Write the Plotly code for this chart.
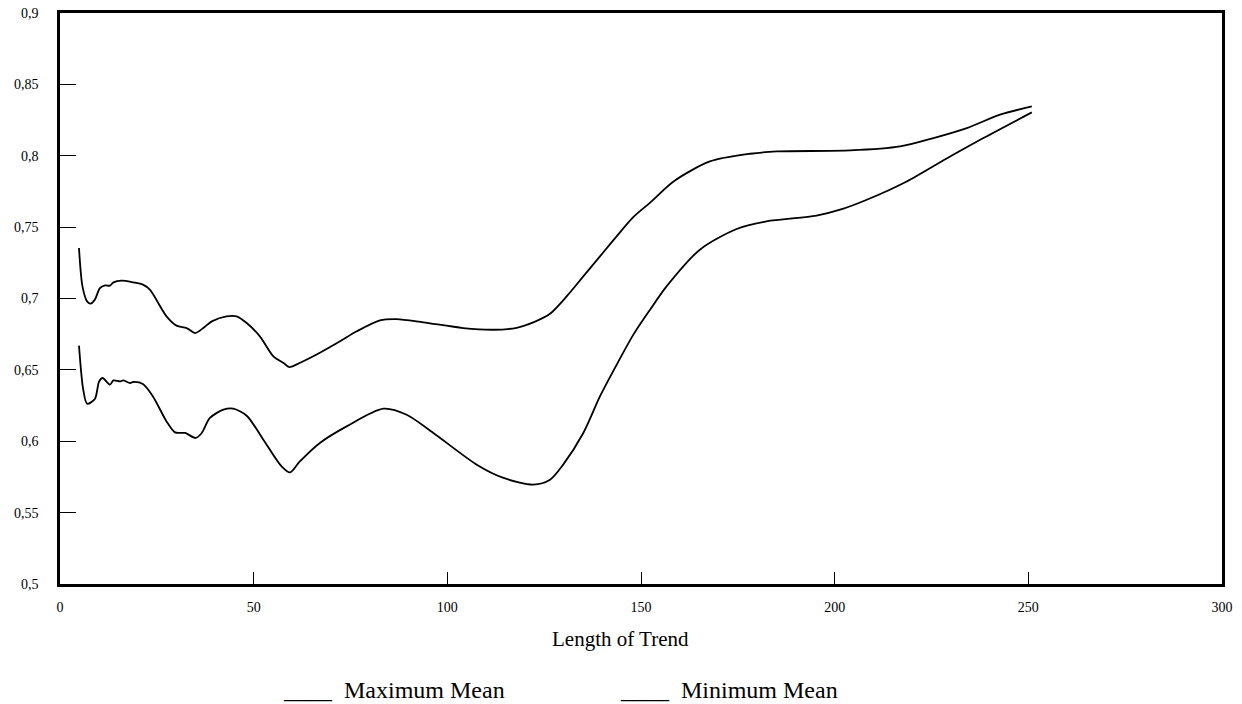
import plotly.graph_objects as go

max_x = [4.9, 5.8, 7.0, 7.9, 9.0, 10.3, 11.6, 12.9, 13.8, 15.9, 18.9, 21.4, 23.2, 27.5, 30.1, 32.7,
         34.9, 37.0, 39.2, 43.0, 45.6, 48.2, 51.6, 55.1, 57.7, 59.2, 62.0, 67.1, 72.3, 76.6, 82.6,
         86.9, 93.8, 104.1, 111.9, 117.9, 122.2, 126.5, 130.8, 135.1, 139.4, 143.7, 148.0, 152.5,
         158.4, 167.8, 178.2, 185.0, 204.0, 216.9, 225.5, 234.1, 242.7, 250.9]
max_y = [0.7354, 0.7085, 0.698, 0.6964, 0.6992, 0.7073, 0.7092, 0.709, 0.7113, 0.7125, 0.7113, 0.7097,
         0.7062, 0.6875, 0.681, 0.6793, 0.6758, 0.6793, 0.684, 0.6875, 0.6875, 0.6828, 0.6735, 0.6594,
         0.6548, 0.652, 0.6550, 0.662, 0.670, 0.677, 0.6847, 0.6856, 0.6833, 0.6793, 0.6781, 0.6795,
         0.6833, 0.6893, 0.7015, 0.7155, 0.7295, 0.7435, 0.7570, 0.7675, 0.782, 0.796, 0.8014, 0.803,
         0.8037, 0.8065, 0.8124, 0.8194, 0.8288, 0.8346]

min_x = [4.9, 6.0, 7.0, 9.0, 10.1, 11.0, 12.9, 13.8, 15.5, 16.3, 18.1, 18.9, 21.4, 24.0, 27.5, 29.7,
         32.3, 35.0, 36.6, 38.7, 42.2, 44.7, 48.2, 52.5, 57.2, 59.4, 61.8, 67.1, 74.0, 83.5, 89.5,
         96.4, 107.6, 114.5, 122.2, 126.5, 129.9, 135.1, 139.4, 143.7, 148.0, 152.3, 156.6, 165.2,
         174.7, 182.4, 195.3, 201.4, 208.3, 218.6, 229.8, 238.4, 250.9]
min_y = [0.667, 0.6361, 0.6263, 0.6296, 0.6419, 0.6443, 0.6396, 0.6426, 0.6419, 0.6426, 0.6408, 0.6415,
         0.6401, 0.6314, 0.6139, 0.6062, 0.6058, 0.6023, 0.6058, 0.6163, 0.6221, 0.6228, 0.6179, 0.6011,
         0.5824, 0.5782, 0.5855, 0.5988, 0.6104, 0.6228, 0.6186, 0.6058, 0.5836, 0.5743, 0.5696, 0.573,
         0.5836, 0.6058, 0.6314, 0.6535, 0.6745, 0.692, 0.7085, 0.7342, 0.7487, 0.754, 0.758, 0.7622,
         0.7692, 0.782, 0.7995, 0.8124, 0.8304]

x_ticks = [0, 50, 100, 150, 200, 250, 300]
y_ticks = [0.5, 0.55, 0.6, 0.65, 0.7, 0.75, 0.8, 0.85, 0.9]
x_title = "Length of Trend"
legend_labels = ["____\u00a0 Maximum Mean", "____\u00a0 Minimum Mean"]

FONT = "Liberation Serif, Times New Roman, serif"

# the page's body margin is removed (post_script), so figure pixels equal page pixels
W, H = 1242, 704
ML, MR, MT, MB = 60, 20, 13, 120
PLOT_W = W - ML - MR
PLOT_H = H - MT - MB


def paper_x(page_px):
    return (page_px - ML) / PLOT_W


def paper_y(page_px):
    return (H - MB - page_px) / PLOT_H


fig = go.Figure()
fig.add_trace(go.Scatter(x=max_x, y=max_y, mode="lines", name="Maximum Mean",
                         line=dict(color="black", width=1.8, shape="spline", smoothing=0.8)))
fig.add_trace(go.Scatter(x=min_x, y=min_y, mode="lines", name="Minimum Mean",
                         line=dict(color="black", width=1.8, shape="spline", smoothing=0.8)))

fig.update_layout(
    width=W, height=H,
    margin=dict(l=ML, r=MR, t=MT, b=MB, autoexpand=False),
    paper_bgcolor="white", plot_bgcolor="white",
    showlegend=False,
    font=dict(family=FONT, color="black", size=14),
)
fig.update_xaxes(range=[0, 300], tickvals=x_ticks, ticktext=[str(v) for v in x_ticks],
                 ticks="inside", ticklen=12, tickwidth=1, tickcolor="black",
                 showline=True, linecolor="black", linewidth=2.5, mirror=True,
                 showgrid=False, zeroline=False, ticklabelstandoff=8, automargin=False,
                 tickfont=dict(size=14, family=FONT))
fig.update_yaxes(range=[0.5, 0.9], tickvals=y_ticks,
                 ticktext=[("%g" % v).replace(".", ",") for v in y_ticks],
                 ticks="inside", ticklen=16, tickwidth=1, tickcolor="black",
                 showline=True, linecolor="black", linewidth=2.5, mirror=True,
                 showgrid=False, zeroline=False, ticklabelstandoff=16, automargin=False,
                 tickfont=dict(size=14, family=FONT))

fig.add_annotation(text=x_title, x=paper_x(620), xref="paper", y=paper_y(639), yref="paper",
                   showarrow=False, font=dict(size=21, family=FONT), yanchor="middle", xanchor="center")
fig.add_annotation(text=legend_labels[0], x=paper_x(281), xref="paper", y=paper_y(690), yref="paper",
                   showarrow=False, font=dict(size=24, family=FONT), yanchor="middle", xanchor="left")
fig.add_annotation(text=legend_labels[1], x=paper_x(618), xref="paper", y=paper_y(690), yref="paper",
                   showarrow=False, font=dict(size=24, family=FONT), yanchor="middle", xanchor="left")

fig.write_html("out.html", config={"displayModeBar": False},
               post_script="document.body.style.margin='0';document.body.style.overflow='hidden';")
